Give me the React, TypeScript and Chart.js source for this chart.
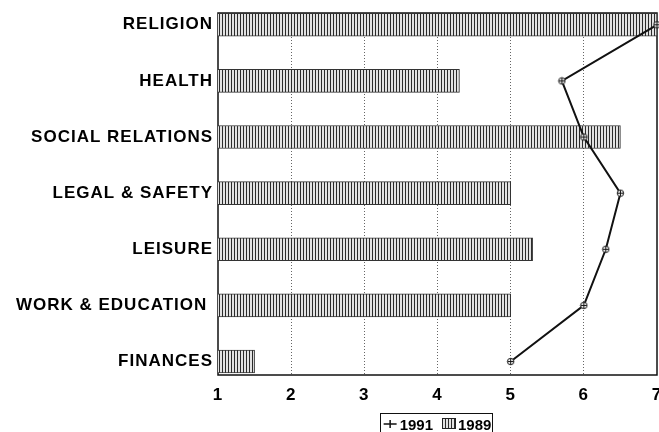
import React, { useEffect, useRef } from 'react';
import { Chart, registerables } from 'chart.js';

Chart.register(...registerables);

const categories = ['RELIGION', 'HEALTH', 'SOCIAL RELATIONS', 'LEGAL & SAFETY', 'LEISURE', 'WORK & EDUCATION ', 'FINANCES'];
const values1989 = [7, 4.3, 6.5, 5, 5.3, 5, 1.5];
const values1991 = [7, 5.7, 6, 6.5, 6.3, 6, 5];
const xTickValues = [1, 2, 3, 4, 5, 6, 7];
const seriesLabels = ['1991', '1989'];

const FONT_FAMILY = '"Liberation Sans", Arial, Helvetica, sans-serif';

function makeHatchCanvas(w: number, h: number, border: boolean) {
  const c = document.createElement('canvas');
  c.width = w;
  c.height = h;
  const g = c.getContext('2d')!;
  g.fillStyle = '#e2e2e2';
  g.fillRect(0, 0, w, h);
  g.fillStyle = '#2a2a2a';
  for (let x = 0; x < w; x += 3) g.fillRect(x, 0, 1, h);
  if (border) {
    g.strokeStyle = '#222';
    g.lineWidth = 1;
    g.strokeRect(0.5, 0.5, w - 1, h - 1);
  }
  return c;
}

function makeMarker() {
  const c = document.createElement('canvas');
  c.width = 9;
  c.height = 9;
  const g = c.getContext('2d')!;
  g.strokeStyle = '#111';
  g.lineWidth = 1;
  g.fillStyle = '#fff';
  g.beginPath();
  g.arc(4.5, 4.5, 3.2, 0, Math.PI * 2);
  g.fill();
  g.stroke();
  g.beginPath();
  g.moveTo(4.5, 1.5);
  g.lineTo(4.5, 7.5);
  g.moveTo(1.5, 4.5);
  g.lineTo(7.5, 4.5);
  g.stroke();
  return c;
}

export default function App() {
  const ref = useRef<HTMLCanvasElement>(null);

  useEffect(() => {
    const canvas = ref.current!;
    const ctx0 = canvas.getContext('2d')!;
    const hatchTile = makeHatchCanvas(3, 4, false);
    const hatch = ctx0.createPattern(hatchTile, 'repeat')!;
    const legendBox = makeHatchCanvas(14, 11, true);
    const marker = makeMarker();

    const frame = {
      id: 'frame',
      beforeDraw(chart: any) {
        (chart.ctx as any).letterSpacing = '1px';
      },
      beforeDatasetsDraw(chart: any) {
        const { ctx, chartArea: a } = chart;
        ctx.save();
        ctx.strokeStyle = '#111';
        ctx.lineWidth = 1.5;
        ctx.strokeRect(a.left, a.top, a.right - a.left, a.bottom - a.top);
        ctx.restore();
      },
    };

    const legendPlugin = {
      id: 'customLegend',
      afterDraw(chart: any) {
        const { ctx, chartArea: a } = chart;
        const ds0 = chart.data.datasets[0];
        ctx.save();
        (ctx as any).letterSpacing = '0px';
        ctx.font = `bold 15px ${FONT_FAMILY}`;
        ctx.fillStyle = '#000';
        const t1 = ctx.measureText(seriesLabels[0]).width;
        const t2 = ctx.measureText(seriesLabels[1]).width;
        const total = 13 + 3 + t1 + 9 + 14 + 2 + t2;
        const cx = (a.left + a.right) / 2;
        let x = cx - total / 2;
        const yMid = 424;
        ctx.strokeStyle = '#111';
        ctx.lineWidth = 1;
        ctx.strokeRect(Math.round(x - 4) + 0.5, 413.5, Math.round(total + 4), 30);
        ctx.strokeStyle = ds0.borderColor;
        ctx.lineWidth = 1.5;
        ctx.beginPath();
        ctx.moveTo(x, yMid);
        ctx.lineTo(x + 13, yMid);
        ctx.moveTo(x + 6.5, yMid - 4);
        ctx.lineTo(x + 6.5, yMid + 4);
        ctx.stroke();
        x += 13 + 3;
        ctx.textBaseline = 'alphabetic';
        ctx.fillText(seriesLabels[0], x, 430);
        x += t1 + 9;
        ctx.drawImage(legendBox, Math.round(x), 418);
        x += 14 + 2;
        ctx.fillText(seriesLabels[1], x, 430);
        ctx.restore();
      },
    };

    const zeroX = (s: any) => {
      s.paddingLeft = 0;
      s.paddingRight = 0;
    };

    const chart = new Chart(canvas, {
      data: {
        datasets: [
          {
            type: 'line',
            label: seriesLabels[0],
            data: values1991.map((v, i) => ({ x: v, y: i })),
            borderColor: '#111',
            borderWidth: 2,
            pointStyle: marker as any,
            pointRadius: 4,
            clip: false as any,
            order: 0,
          },
          {
            type: 'bar',
            label: seriesLabels[1],
            data: values1989.map((v, i) => ({ x: v, y: i })),
            backgroundColor: hatch as any,
            borderColor: '#333',
            borderWidth: 1,
            barThickness: 23,
            order: 1,
          },
        ] as any,
      },
      options: {
        indexAxis: 'y',
        animation: false,
        responsive: false,
        layout: { padding: { top: 13, right: 0, left: 0, bottom: 0 } },
        scales: {
          x: {
            type: 'linear',
            min: 1,
            max: 7,
            offset: false,
            afterBuildTicks: (s: any) => {
              s.ticks = xTickValues.map((v) => ({ value: v }));
            },
            afterFit: (s: any) => {
              zeroX(s);
              s.height = 57;
            },
            afterUpdate: zeroX,
            ticks: {
              color: '#000',
              font: { family: FONT_FAMILY, size: 17, weight: 'bold' },
              padding: 10,
              maxRotation: 0,
            },
            grid: {
              drawTicks: false,
              offset: false,
              color: (c: any) => (c.tick && (c.tick.value === 1 || c.tick.value === 7) ? 'rgba(0,0,0,0)' : '#666'),
              lineWidth: 1,
            },
            border: { display: false, dash: [1, 2] },
          },
          y: {
            type: 'linear',
            reverse: true,
            offset: false,
            min: -0.21,
            max: 6.24,
            afterBuildTicks: (s: any) => {
              s.ticks = categories.map((_, i) => ({ value: i }));
            },
            afterFit: (s: any) => {
              s.width = 218;
              s.paddingTop = 0;
              s.paddingBottom = 0;
              s.paddingLeft = 0;
              s.paddingRight = 0;
            },
            ticks: {
              color: '#000',
              font: { family: FONT_FAMILY, size: 17, weight: 'bold' },
              padding: 5,
              callback: (v: any) => categories[v as number],
            },
            grid: { display: false, drawTicks: false, offset: false },
            border: { display: false },
          },
        },
        plugins: {
          legend: { display: false },
          tooltip: { enabled: false },
        },
      } as any,
      plugins: [frame, legendPlugin],
    });
    return () => chart.destroy();
  }, []);

  return (
    <div style={{ position: 'fixed', left: 0, top: 0, width: 659, height: 432, overflow: 'hidden', background: '#fff' }}>
      <canvas ref={ref} width={663} height={432} style={{ display: 'block', width: 663, height: 432 }} />
    </div>
  );
}
